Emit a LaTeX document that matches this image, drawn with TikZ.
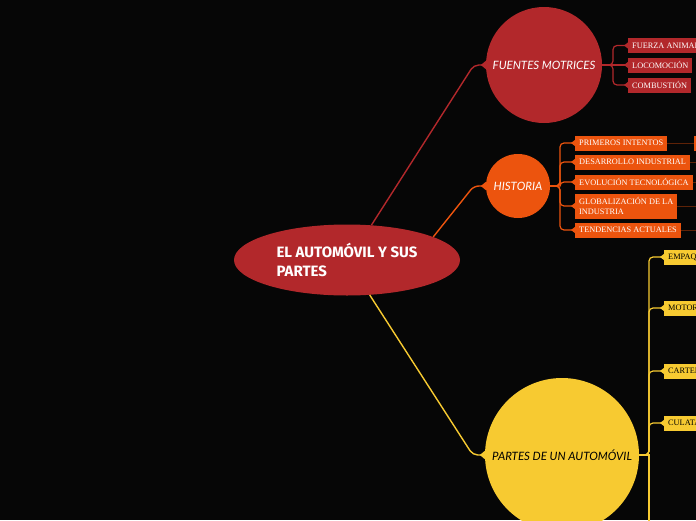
\documentclass[tikz,border=0pt]{standalone}
\usepackage{fontspec}
\usepackage{tikz}
\usetikzlibrary{arrows.meta, positioning, calc, shapes.geometric}
\setmainfont{Liberation Serif}
\newfontfamily\titlefont{Fira Sans}
\newfontfamily\bubblefont{Lato}
\definecolor{bgblack}{HTML}{060606}
\definecolor{carred}{HTML}{B2282B}
\definecolor{carorange}{HTML}{EC540E}
\definecolor{caryellow}{HTML}{F7CA31}
\definecolor{trailbrown}{HTML}{5E2207}

\tikzset{
    topic/.style={circle, inner sep=0pt, font=\bubblefont\itshape\fontsize{11.5}{13}\selectfont},
    leaf/.style={anchor=west, minimum height=15pt, inner xsep=4pt, inner ysep=0pt, font=\fontsize{8.3}{9.3}\selectfont},
    branch/.style={line width=1.4pt, rounded corners=5pt, -{Triangle[reversed, width=8pt, length=5pt]}},
    twig/.style={line width=1.2pt, rounded corners=4pt, -{Triangle[reversed, width=6pt, length=4pt]}},
    trail/.style={draw=trailbrown, line width=1pt},
}

\begin{document}
\begin{tikzpicture}[x=1pt, y=-1pt]
    \useasboundingbox (0,0) rectangle (696,520);
    \fill[bgblack] (0,0) rectangle (696,520);
    \clip (0,0) rectangle (696,520);

    % central topic
    \node[ellipse, fill=carred, minimum width=226pt, minimum height=71pt, inner sep=0pt, text=white, align=left,
        font=\titlefont\bfseries\fontsize{15}{19}\selectfont] (root) at (347,260) {EL AUTOMÓVIL Y SUS\\PARTES};

    % main topics
    \node[topic, fill=carred, minimum size=116pt, text=white] (fuentes) at (544,65) {FUENTES MOTRICES};
    \node[topic, fill=carorange, minimum size=64pt, text=white] (historia) at (518,186) {HISTORIA};
    \node[topic, fill=caryellow, minimum size=154pt, text=black] (partes) at (562,455) {PARTES DE UN AUTOMÓVIL};

    \draw[branch, carred] (root.55) -- ($(fuentes.west)+(-12,0)$) -- (fuentes.west);
    \draw[branch, carorange] (root.15) -- ($(historia.west)+(-12,0)$) -- (historia.west);
    \draw[branch, caryellow] (root.-57) -- ($(partes.west)+(-12,0)$) -- (partes.west);

    % fuentes motrices
    \node[leaf, fill=carred, text=white] (animal) at (628,45.5) {FUERZA ANIMAL};
    \node[leaf, fill=carred, text=white] (locomocion) at (628,65) {LOCOMOCIÓN};
    \node[leaf, fill=carred, text=white] (combustion) at (628,85) {COMBUSTIÓN};
    \coordinate (fuentesfork) at (613,65);
    \draw[twig, carred] (fuentes.east) -- (fuentesfork) |- (animal.west);
    \draw[twig, carred] (fuentes.east) -- (locomocion.west);
    \draw[twig, carred] (fuentes.east) -- (fuentesfork) |- (combustion.west);

    % historia
    \node[leaf, fill=carorange, text=white] (primeros) at (575,143) {PRIMEROS INTENTOS};
    \node[leaf, fill=carorange, text=white] (desarrollo) at (575,162) {DESARROLLO INDUSTRIAL};
    \node[leaf, fill=carorange, text=white] (evolucion) at (575,182) {EVOLUCIÓN TECNOLÓGICA};
    \node[leaf, fill=carorange, text=white, minimum height=25pt, align=left] (globalizacion) at (575,206) {GLOBALIZACIÓN DE LA\\INDUSTRIA};
    \node[leaf, fill=carorange, text=white] (tendencias) at (575,230) {TENDENCIAS ACTUALES};
    \coordinate (historiafork) at (560,186);
    \foreach \n in {primeros, desarrollo, evolucion, globalizacion, tendencias}
        \draw[twig, carorange] (historia.east) -- (historiafork) |- (\n.west);

    \node[leaf, fill=carorange, minimum width=30pt] (primerosnext) at (694,143) {};
    \draw[trail] (primeros.east) -- (primerosnext.west);
    \coordinate (desarrolloend) at (700,162);
    \coordinate (evolucionend) at (700,182);
    \coordinate (globalizacionend) at (700,206);
    \coordinate (tendenciasend) at (700,230);
    \draw[trail] (desarrollo.east) -- (desarrolloend);
    \draw[trail] (evolucion.east) -- (evolucionend);
    \draw[trail] (globalizacion.east) -- (globalizacionend);
    \draw[trail] (tendencias.east) -- (tendenciasend);

    % partes de un automovil
    \node[leaf, fill=caryellow] (empaque) at (664,257) {EMPAQUE};
    \node[leaf, fill=caryellow] (motor) at (664,308) {MOTOR};
    \node[leaf, fill=caryellow] (carter) at (664,371) {CARTER};
    \node[leaf, fill=caryellow] (culata) at (664,423) {CULATA};
    \coordinate (partesfork) at (649,455);
    \coordinate (partesmore) at (649,530);
    \foreach \n in {empaque, motor, carter, culata}
        \draw[twig, caryellow] (partes.east) -- (partesfork) |- (\n.west);
    \draw[caryellow, line width=1.2pt] (partes.east) -- (partesfork) -- (partesmore);
\end{tikzpicture}
\end{document}
